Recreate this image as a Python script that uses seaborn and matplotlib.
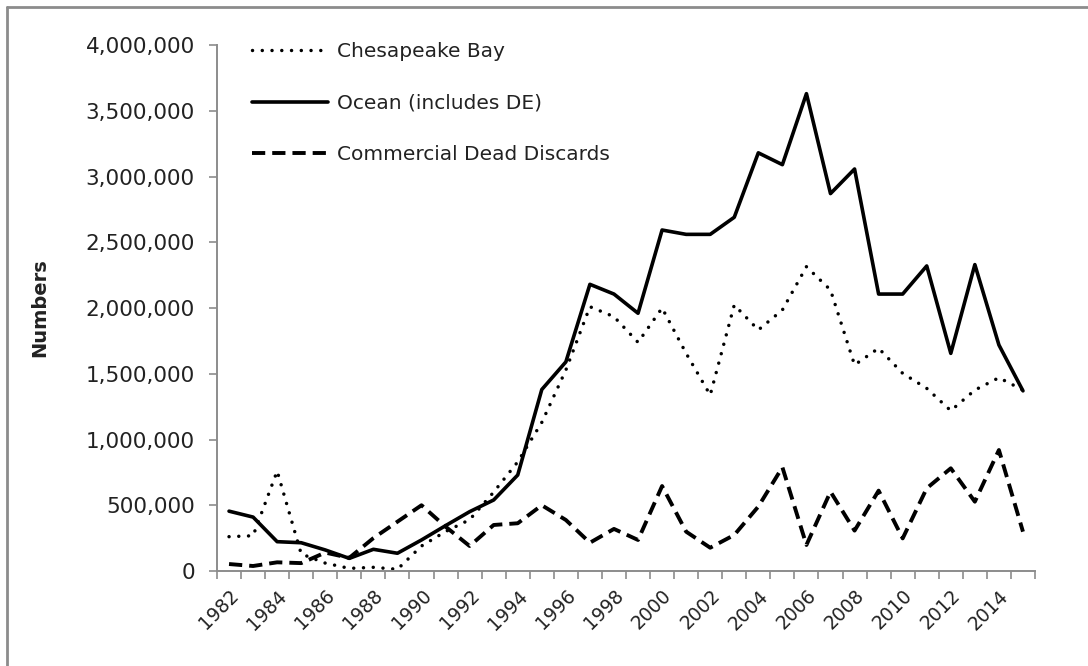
import pandas as pd
import numpy as np
import matplotlib.pyplot as plt
import matplotlib.ticker as mticker
from matplotlib.lines import Line2D
import seaborn as sns

sns.set_theme(style="white")
plt.rcParams['font.family'] = ['DejaVu Sans']

years = list(range(1982, 2016))
chesapeake = [261000, 268000, 760000, 130000, 60000, 20000, 28000, 13000, 190000, 300000,
              390000, 600000, 830000, 1130000, 1528000, 2010000, 1934000, 1739000, 2000000, 1655000,
              1338000, 2023000, 1833000, 1985000, 2314000, 2137000, 1567000, 1694000, 1503000, 1389000,
              1219000, 1376000, 1470000, 1376000]
ocean = [455000, 410000, 223000, 215000, 160000, 96000, 165000, 135000, 236000, 345000,
         451000, 540000, 730000, 1380000, 1590000, 2180000, 2106000, 1960000, 2593000, 2560000,
         2560000, 2690000, 3180000, 3090000, 3630000, 2870000, 3057000, 2106000, 2106000, 2320000,
         1655000, 2330000, 1719000, 1370000]
discards = [53000, 38000, 66000, 60000, 140000, 100000, 250000, 375000, 500000, 337000,
            190000, 350000, 363000, 500000, 388000, 215000, 320000, 236000, 646000, 299000,
            177000, 274000, 490000, 789000, 198000, 603000, 307000, 611000, 248000, 629000,
            781000, 527000, 920000, 299000]

df = pd.DataFrame({'year': years, 'Chesapeake Bay': chesapeake,
                   'Ocean (includes DE)': ocean, 'Commercial Dead Discards': discards})

fig = plt.figure(figsize=(10.88, 6.66), dpi=100)
ax = fig.add_axes([217 / 1088, 1 - 571 / 666, (1035 - 217) / 1088, (571 - 45) / 666])

sns.lineplot(data=df, x='year', y='Chesapeake Bay', ax=ax, color='black', lw=2.5,
             linestyle=(0, (0.01, 2.8)), dash_capstyle='round', label='Chesapeake Bay')
sns.lineplot(data=df, x='year', y='Ocean (includes DE)', ax=ax, color='black', lw=2.6,
             label='Ocean (includes DE)')
sns.lineplot(data=df, x='year', y='Commercial Dead Discards', ax=ax, color='black', lw=2.8,
             linestyle=(0, (3.4, 1.8)), dash_capstyle='butt', label='Commercial Dead Discards')

ax.set_xlim(1981.5, 2015.5)
ax.set_ylim(0, 4000000)
ax.set_yticks(np.arange(0, 4000001, 500000))
ax.yaxis.set_major_formatter(mticker.FuncFormatter(lambda v, p: f'{int(v):,}'))
ax.set_xticks(range(1982, 2016, 2))
ax.set_xticks(np.arange(1981.5, 2016, 1), minor=True)
ax.set_xticklabels([str(y) for y in range(1982, 2016, 2)], rotation=45,
                   ha='right', rotation_mode='anchor', fontsize=13.5)
ax.tick_params(axis='x', which='major', length=0, pad=11, colors='#222222')
ax.tick_params(axis='x', which='minor', length=6, width=1.2, color='#8c8c8c', bottom=True)
ax.tick_params(axis='y', length=6, width=1.2, color='#8c8c8c', labelcolor='#222222',
               labelsize=15.5, left=True, pad=10)
for s in ['top', 'right']:
    ax.spines[s].set_visible(False)
for s in ['left', 'bottom']:
    ax.spines[s].set_color('#8c8c8c')
    ax.spines[s].set_linewidth(1.4)
ax.set_xlabel('')
ax.set_ylabel('Numbers', fontsize=14, fontweight='bold', color='#222222', labelpad=26)
ax.grid(False)

leg = ax.legend(loc='upper left', bbox_to_anchor=(0.043, 1.005), frameon=False,
                fontsize=14.5, handlelength=3.75, handletextpad=0.45, labelspacing=1.6,
                borderpad=0, borderaxespad=0)
for t in leg.get_texts():
    t.set_color('#222222')

# gray frame around the chart area
fig.add_artist(Line2D([7 / 1088, 7 / 1088], [0, 1 - 7 / 666], transform=fig.transFigure,
                      color='#8c8c8c', lw=2))
fig.add_artist(Line2D([7 / 1088, 1], [1 - 7 / 666, 1 - 7 / 666], transform=fig.transFigure,
                      color='#8c8c8c', lw=2))

fig.savefig('out.png', dpi=100)
